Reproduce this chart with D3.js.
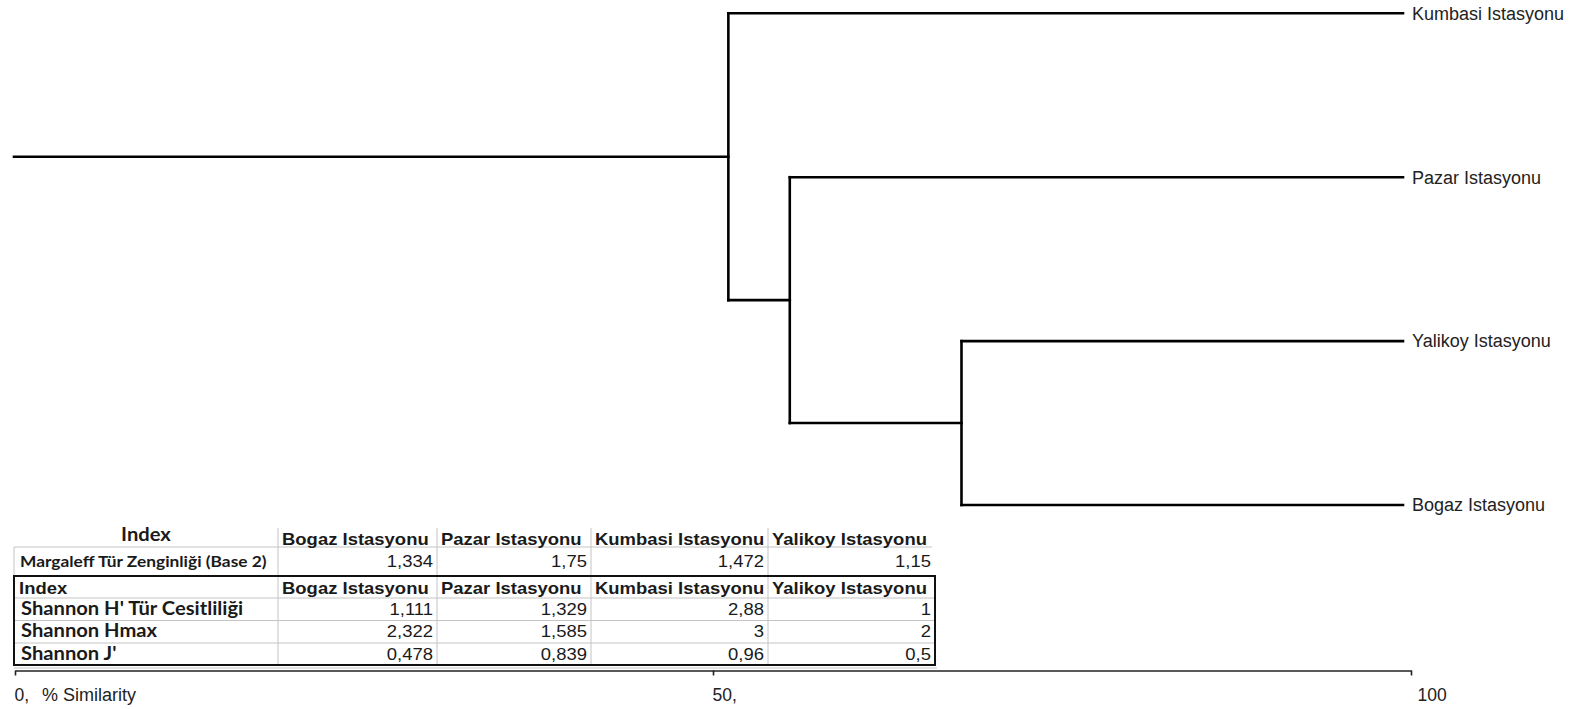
<!DOCTYPE html>
<html><head><meta charset="utf-8">
<script src="https://cdn.jsdelivr.net/npm/d3@7"></script>
<style>html,body{margin:0;padding:0;background:#fff;overflow:hidden}</style>
</head><body><svg id="c" width="1592" height="709"></svg>
<script>
// ---------- DATA ----------
const leafOrder = ["Kumbasi Istasyonu", "Pazar Istasyonu", "Yalikoy Istasyonu", "Bogaz Istasyonu"];
const mergeSimilarity = [51.1, 55.5, 67.8]; // % similarity of the three joins (outer -> inner)
const axisTicks = [0, 50, 100];
const axisTickLabels = ["0,", "50,", "100"];
const axisTitle = "% Similarity";

const tableStations = ["Bogaz Istasyonu", "Pazar Istasyonu", "Kumbasi Istasyonu", "Yalikoy Istasyonu"];
const margalefLabel = "Margaleff Tür Zenginliği (Base 2)";
const margalefValues = [1.334, 1.75, 1.472, 1.15];
const shannonRows = ["Shannon H' Tür Cesitliliği", "Shannon Hmax", "Shannon J'"];
const shannonH = [1.111, 1.329, 2.88, 1];
const shannonHmax = [2.322, 1.585, 3, 2];
const shannonJ = [0.478, 0.839, 0.96, 0.5];

// ---------- TREE ----------
const treeData = {sim: mergeSimilarity[0], children: [
  {name: leafOrder[0]},
  {sim: mergeSimilarity[1], children: [
    {name: leafOrder[1]},
    {sim: mergeSimilarity[2], children: [{name: leafOrder[2]}, {name: leafOrder[3]}]}
  ]}
]};

const svg = d3.select("#c");
const x = d3.scaleLinear().domain([0, 100]).range([15, 1411]);
const y = d3.scalePoint().domain(leafOrder).range([13.3, 505]);
const leafInset = 8;

const root = d3.hierarchy(treeData);
root.eachAfter(n => {
  if (!n.children) { n.py = y(n.data.name); n.px = x(100) - leafInset; }
  else { n.py = d3.mean([n.children[0].py, n.children[n.children.length - 1].py]); n.px = x(n.data.sim); }
});

const g = svg.append("g").attr("fill", "none").attr("stroke", "#000").attr("stroke-width", 2.6).attr("stroke-linecap", "square");
g.append("line").attr("x1", x(0) - 1).attr("x2", root.px).attr("y1", root.py).attr("y2", root.py);
root.descendants().filter(n => n.children).forEach(n => {
  const c = n.children;
  g.append("line").attr("x1", n.px).attr("x2", n.px).attr("y1", c[0].py).attr("y2", c[c.length - 1].py);
  c.forEach(ch => g.append("line").attr("x1", n.px).attr("x2", ch.px).attr("y1", ch.py).attr("y2", ch.py));
});

svg.append("g").selectAll("text").data(root.leaves()).join("text")
  .attr("x", d => x(100) + 1).attr("y", d => d.py).attr("dy", "0.35em")
  .attr("font-family", "Liberation Sans, Arial, sans-serif").attr("font-size", 18).attr("fill", "#222")
  .text(d => d.data.name);

// ---------- AXIS ----------
const axis = d3.axisBottom(x).tickValues(axisTicks).tickSizeInner(5).tickSizeOuter(0)
  .tickFormat((d, i) => axisTickLabels[i]);
const ax = svg.append("g").attr("transform", "translate(0,670.5)").call(axis);
ax.select(".domain").attr("stroke", "#222").attr("stroke-width", 1.6);
ax.selectAll(".tick line").attr("stroke", "#222").attr("stroke-width", 1.6);
ax.selectAll(".tick text").attr("text-anchor", "start").attr("y", 30).attr("dy", 0)
  .attr("dx", d => d === 100 ? 6 : -1)
  .attr("font-family", "Liberation Sans, Arial, sans-serif").attr("font-size", 17.5).attr("fill", "#222");
svg.append("text").attr("x", 42).attr("y", 700.5)
  .attr("font-family", "Liberation Sans, Arial, sans-serif").attr("font-size", 18).attr("fill", "#222")
  .text(axisTitle);

// ---------- TABLE ----------
const colX = [14, 278, 437, 591, 768, 935];
const fmt = v => String(v).replace(".", ",");
const T = svg.append("g");
const gray = "#c4c4c4";
const stretch = 1.12;
const ln = (x1, y1, x2, y2, c, w) => T.append("line").attr("x1", x1).attr("y1", y1).attr("x2", x2).attr("y2", y2)
  .attr("stroke", c).attr("stroke-width", w);
const txt = (s, xx, yy, anchor, font, size, weight) => T.append("text")
  .attr("transform", `translate(${xx},${yy}) scale(${stretch},1)`)
  .attr("text-anchor", anchor).attr("font-family", font).attr("font-size", size).attr("font-weight", weight)
  .attr("fill", "#1a1a1a").text(s);
const arial = "Liberation Sans, Arial, sans-serif";
const calib = "Lato, Noto Sans, sans-serif";

// Table 1
const t1Top = 528, t1Mid = 547, t1Bot = 575.5;
ln(colX[1], t1Mid, colX[5] - 3, t1Mid, gray, 1);
ln(colX[0], t1Mid, colX[1], t1Mid, gray, 1);
ln(colX[0], t1Mid, colX[0], t1Bot, gray, 1);
for (let i = 1; i < 5; i++) ln(colX[i], t1Top, colX[i], t1Bot, gray, 1);
txt("Index", (colX[0] + colX[1]) / 2, 540.5, "middle", calib, 18, "bold");
tableStations.forEach((s, i) => txt(s, colX[i + 1] + 4, 544.5, "start", arial, 16.5, "bold"));
txt(margalefLabel, 20, 567, "start", calib, 15.5, "bold");
margalefValues.forEach((v, i) => txt(fmt(v), colX[i + 2] - 4, 567, "end", arial, 16.5, "normal"));

// Table 2
const rowY = [576, 598, 620.5, 643, 665];
for (let r = 1; r < 4; r++) ln(colX[0], rowY[r], colX[5], rowY[r], gray, 1);
for (let i = 1; i < 5; i++) ln(colX[i], rowY[0], colX[i], rowY[4], gray, 1);
T.append("rect").attr("x", colX[0]).attr("y", rowY[0]).attr("width", colX[5] - colX[0]).attr("height", rowY[4] - rowY[0])
  .attr("fill", "none").attr("stroke", "#111").attr("stroke-width", 2);
ln(colX[0], 668, colX[5] + 2, 668, gray, 1);
txt("Index", 19, 593.5, "start", arial, 16.5, "bold");
tableStations.forEach((s, i) => txt(s, colX[i + 1] + 4, 593.5, "start", arial, 16.5, "bold"));
const rowsVals = [shannonH, shannonHmax, shannonJ];
shannonRows.forEach((lab, r) => {
  const base = rowY[r + 1] + 16.5;
  txt(lab, 21, base, "start", calib, 18, "bold");
  rowsVals[r].forEach((v, i) => txt(fmt(v), colX[i + 2] - 4, base, "end", arial, 16.5, "normal"));
});
</script>
</body></html>
